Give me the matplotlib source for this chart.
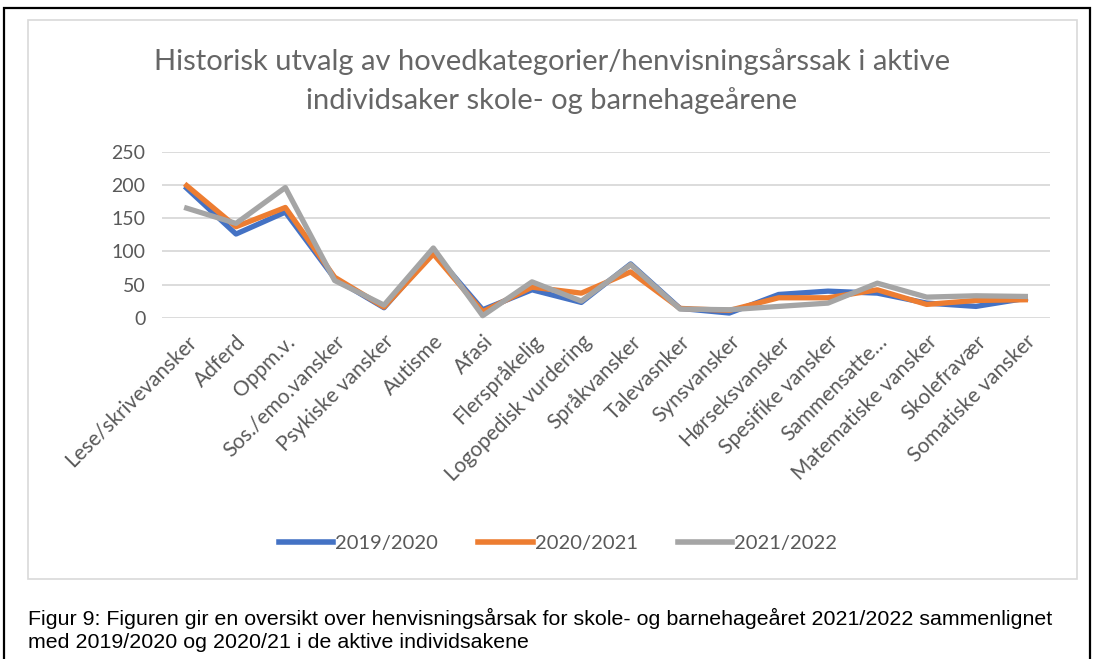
import matplotlib.pyplot as plt
from matplotlib.patches import Rectangle

categories = ['Lese/skrivevansker', 'Adferd', 'Oppm.v.', 'Sos./emo.vansker',
              'Psykiske vansker', 'Autisme', 'Afasi', 'Flerspråkelig',
              'Logopedisk vurdering', 'Språkvansker', 'Talevasnker',
              'Synsvansker', 'Hørseksvansker', 'Spesifike vansker',
              'Sammensatte…', 'Matematiske vansker', 'Skolefravær',
              'Somatiske vansker']
y2019 = [195, 126, 159, 59, 15, 99, 12, 42, 23, 81, 14, 7, 35, 40, 37, 22, 17, 29]
y2020 = [199, 137, 166, 61, 16, 96, 9, 46, 37, 69, 14, 11, 30, 30, 42, 20, 26, 27]
y2022 = [165, 142, 196, 56, 19, 105, 3, 54, 25, 80, 13, 12, 17, 22, 52, 31, 33, 32]
yticks = [0, 50, 100, 150, 200, 250]

W, H = 1095, 659
fig = plt.figure(figsize=(W / 100, H / 100), dpi=100)
plt.rcParams['font.family'] = ['Lato', 'DejaVu Sans']

# outer black frame and light inner chart frame (pixel coords)
fig.patches.append(Rectangle((4 / W, -0.05), 1086 / W, 1.05 - 8 / H, transform=fig.transFigure,
                             fill=False, edgecolor='black', linewidth=1.6))
fig.patches.append(Rectangle((28 / W, 1 - 579 / H), 1049 / W, 559 / H, transform=fig.transFigure,
                             fill=False, edgecolor='#D9D9D9', linewidth=1.2))

ax = fig.add_axes([162 / W, 1 - 317.7 / H, 888 / W, 166 / H])
x = list(range(len(categories)))
ax.plot(x, y2019, color='#4472C4', lw=3.8, label='2019/2020', clip_on=False)
ax.plot(x, y2020, color='#ED7D31', lw=3.8, label='2020/2021', clip_on=False)
ax.plot(x, y2022, color='#A5A5A5', lw=3.8, label='2021/2022', clip_on=False)

ax.set_xlim(-0.5, len(categories) - 0.5)
ax.set_ylim(0, 250)
ax.set_yticks(yticks)
ax.yaxis.grid(True, color='#D9D9D9', lw=1.3)
ax.set_axisbelow(True)
for s in ax.spines.values():
    s.set_visible(False)
ax.tick_params(axis='both', length=0, colors='#595959')
ax.tick_params(axis='y', pad=12, labelsize=14)
ax.tick_params(axis='x', pad=10, labelsize=15)
ax.set_xticks(x)
ax.set_xticklabels(categories, rotation=45, ha='right', va='top', rotation_mode='anchor')

fig.text(552 / W, 1 - 62 / H, 'Historisk utvalg av hovedkategorier/henvisningsårssak i aktive',
         ha='center', va='center', fontsize=21, color='#666666')
fig.text(552 / W, 1 - 101 / H, 'individsaker skole- og barnehageårene',
         ha='center', va='center', fontsize=21, color='#666666')

leg = fig.legend(loc='center', bbox_to_anchor=(558 / W, 1 - 543 / H), ncol=3, frameon=False,
                 fontsize=14.5, handlelength=2.7, handletextpad=0.1, columnspacing=2.0)
for t in leg.get_texts():
    t.set_color('#595959')
for h in leg.get_lines():
    h.set_linewidth(4)

fig.text(28 / W, 1 - 618 / H,
         'Figur 9: Figuren gir en oversikt over henvisningsårsak for skole- og barnehageåret 2021/2022 sammenlignet',
         ha='left', va='center', fontsize=15.4, family='Liberation Sans', color='black')
fig.text(28 / W, 1 - 643 / H, 'med 2019/2020 og 2020/21 i de aktive individsakene',
         ha='left', va='center', fontsize=15.4, family='Liberation Sans', color='black')

fig.savefig('out.png', dpi=100)
